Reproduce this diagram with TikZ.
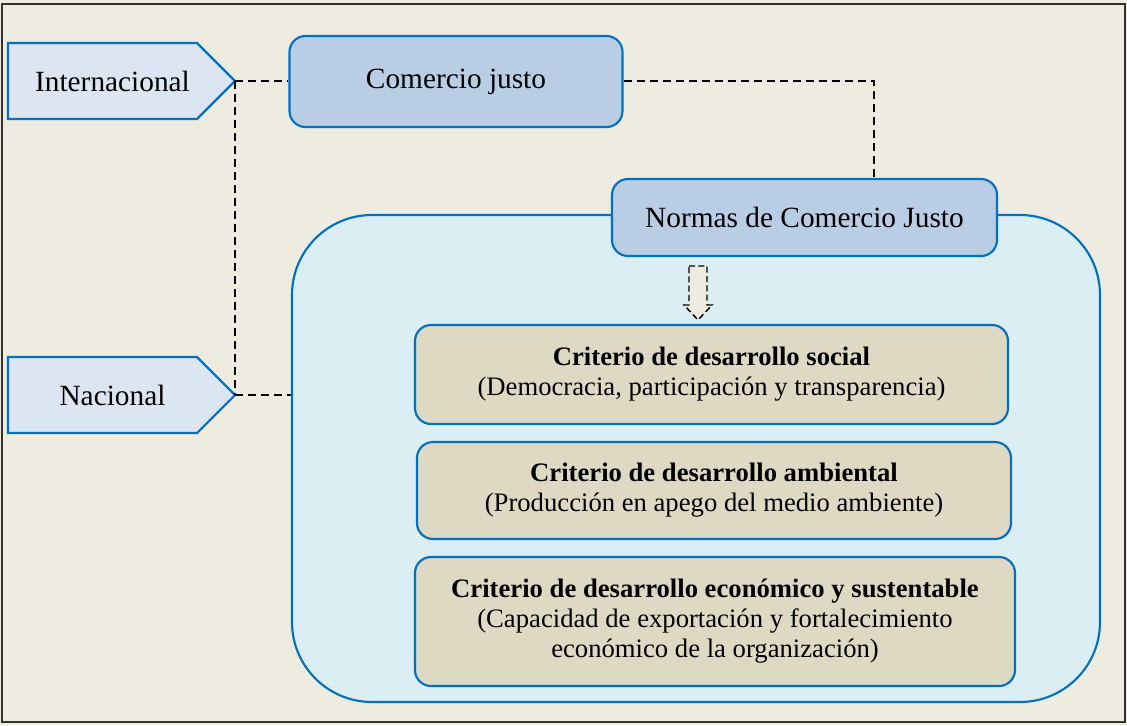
\documentclass[tikz,border=0pt]{standalone}
\usepackage{fontspec}
\setmainfont{Liberation Serif}
\usetikzlibrary{calc}
\definecolor{bgbeige}{RGB}{238,236,225}
\definecolor{pentfill}{RGB}{220,230,242}
\definecolor{cjfill}{RGB}{185,205,229}
\definecolor{contfill}{RGB}{219,238,243}
\definecolor{critfill}{RGB}{221,217,195}
\definecolor{bordblue}{RGB}{0,112,192}
\definecolor{framegray}{RGB}{50,50,50}
\tikzset{
  pentshape/.style={draw=bordblue, fill=pentfill, line width=1.6pt, line join=miter},
  pentlabel/.style={inner sep=0pt, font=\fontsize{22}{26}\selectfont},
  bluebox/.style={rectangle, rounded corners=12pt, draw=bordblue, fill=cjfill,
    line width=1.6pt, inner sep=0pt, font=\fontsize{22}{26}\selectfont},
  contbox/.style={rectangle, rounded corners=60pt, draw=bordblue, fill=contfill,
    line width=1.6pt, inner sep=0pt},
  critbox/.style={rectangle, rounded corners=12pt, draw=bordblue, fill=critfill,
    line width=1.6pt, inner sep=0pt, align=center, font=\fontsize{20}{22.5}\selectfont},
  conn/.style={draw=black, line width=1.4pt, dash pattern=on 6pt off 3.75pt},
  dasharrow/.style={draw=black, line width=1.1pt, dash pattern=on 4.5pt off 2.5pt, fill=bgbeige}
}
\begin{document}
\begin{tikzpicture}[x=0.75pt,y=-0.75pt]
\useasboundingbox (0,0) rectangle (1127,725);
\fill[bgbeige] (0,0) rectangle (1127,725);
\draw[framegray, line width=1.6pt] (2,4) rectangle (1125,722);

\node[contbox, minimum width=606pt, minimum height=365.25pt] (cont) at (696,458.5) {};

% pentagons
\coordinate (intltip) at (235,81);
\path[pentshape] (8,43) -- (197,43) -- (intltip) -- (197,119) -- (8,119) -- cycle;
\node[pentlabel] (intl) at (112.5,81) {Internacional};
\coordinate (nactip) at (235,395);
\path[pentshape] (8,357) -- (197,357) -- (nactip) -- (197,433) -- (8,433) -- cycle;
\node[pentlabel] (nac) at (112.5,395) {Nacional};

\node[bluebox, minimum width=249.75pt, minimum height=68.25pt] (cj) at (456,81.5) {Comercio justo};
\node[bluebox, minimum width=288.75pt, minimum height=57.75pt] (normas) at (804.5,217.5) {Normas de Comercio Justo};

\node[critbox, minimum width=444.75pt, minimum height=74.25pt] (c1) at (711.5,374.5)
  {\textbf{Criterio de desarrollo social}\\(Democracia, participación y transparencia)};
\node[critbox, minimum width=445.5pt, minimum height=72.75pt] (c2) at (714,490.5)
  {\textbf{Criterio de desarrollo ambiental}\\(Producción en apego del medio ambiente)};
\node[critbox, minimum width=450pt, minimum height=96.75pt] (c3) at (715,621.5)
  {\textbf{Criterio de desarrollo económico y sustentable}\\(Capacidad de exportación y fortalecimiento\\económico de la organización)};

% dashed arrow
\coordinate (arrtop) at (698,266);
\path[dasharrow] ($(arrtop)+(-9,0)$) -- ($(arrtop)+(9,0)$) -- ($(arrtop)+(9,39)$) -- ($(arrtop)+(14,39)$)
  -- ($(arrtop)+(0,54)$) -- ($(arrtop)+(-14,39)$) -- ($(arrtop)+(-9,39)$) -- cycle;

% connectors
\draw[conn] (intltip) -- (intltip -| cj.west);
\draw[conn] (intltip) -- (nactip);
\draw[conn] (nactip) -- (nactip -| cont.west);
\draw[conn] (cj.east |- intltip) -| ($(normas.north)+(69.5,0)$);
\end{tikzpicture}
\end{document}
